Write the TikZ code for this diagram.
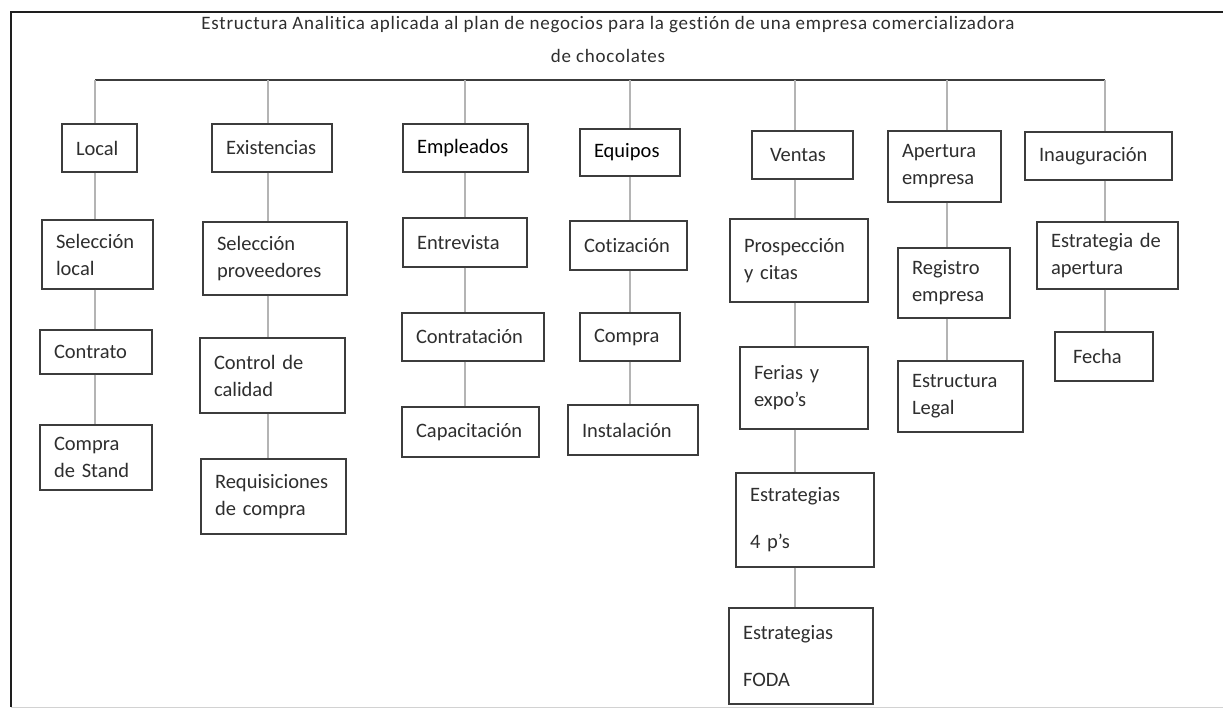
\documentclass[tikz,border=0pt]{standalone}
\usepackage{fontspec}
\setmainfont{Carlito}[Ligatures={NoCommon}]
\newfontfamily\titlefont{Carlito}[Ligatures={NoCommon},LetterSpace=4]
\definecolor{inkgray}{HTML}{2E2E2E}
\definecolor{edgegray}{HTML}{3C3C3C}
\definecolor{linkgray}{HTML}{B4B4B4}
\definecolor{framegray}{HTML}{1E1E1E}
\tikzset{
  box/.style={draw=edgegray, line width=1.4pt, rectangle, align=left,
    inner xsep=14pt, inner ysep=0pt, text=inkgray,
    font=\fontsize{20.5}{27}\selectfont},
  link/.style={draw=linkgray, line width=1.3pt},
  bus/.style={draw=edgegray, line width=1.4pt},
  titlestyle/.style={align=center, text=inkgray, font=\titlefont\fontsize{19}{33}\selectfont}
}
% box from (x1,y1) to (x2,y2), y measured downwards
\newcommand\wbsbox[6]{%
  \pgfmathsetmacro\bxw{#4-#2-28}%
  \node[box, text width=\bxw pt, minimum height={(#5-#3)*1pt}]
    (#1) at ({(#2+#4)/2},{(#3+#5)/2}) {#6};}
\begin{document}
\begin{tikzpicture}[x=1pt,y=-1pt]
\useasboundingbox (0,0) rectangle (1223,711);
% outer frame
\draw[framegray, line width=1.6pt] (1223,12) -- (11,12) -- (11,707);
\draw[linkgray!60, line width=1pt] (11,707) -- (1223,707);

\node[titlestyle] (title) at (608,39)
  {Estructura Analitica aplicada al plan de negocios para la gestión de una empresa comercializadora\\de chocolates};

% column axes on the bus
\coordinate (cLocal) at (95,80);
\coordinate (cExist) at (268,80);
\coordinate (cEmple) at (465,80);
\coordinate (cEquip) at (630,80);
\coordinate (cVenta) at (795,80);
\coordinate (cApert) at (947,80);
\coordinate (cInaug) at (1105,80);
\draw[bus] (cLocal) -- (cInaug);

% first level
\wbsbox{local}{62}{124}{137}{172}{Local}
\wbsbox{exist}{212}{124}{332}{172}{Existencias}
\wbsbox{emple}{403}{124}{528}{172}{\color{black}Empleados}
\wbsbox{equip}{580}{129}{680}{176}{\color{black}Equipos}
\wbsbox{venta}{752}{131}{853}{179}{\hspace{4pt}Ventas}
\wbsbox{apert}{888}{131}{1001}{202}{Apertura\\empresa}
\wbsbox{inaug}{1025}{132}{1172}{180}{Inauguración}

% second level
\wbsbox{sell}{42}{220}{153}{289}{Selección\\local}
\wbsbox{selp}{203}{222}{347}{295}{Selección\\proveedores}
\wbsbox{entre}{403}{218}{527}{267}{Entrevista\\[6pt]}
\wbsbox{coti}{570}{221}{687}{270}{Cotización}
\wbsbox{prosp}{730}{219}{868}{302}{Prospección\\y~citas\\[10pt]}
\wbsbox{regis}{898}{248}{1010}{318}{Registro\\empresa}
\wbsbox{estap}{1037}{222}{1178}{289}{Estrategia~de\\apertura}

% third level
\wbsbox{contr}{40}{330}{152}{374}{Contrato\\[2pt]}
\wbsbox{ctrl}{200}{338}{345}{413}{Control~de\\calidad}
\wbsbox{contrat}{402}{313}{544}{361}{Contratación}
\wbsbox{compra}{580}{313}{680}{361}{Compra\\[6pt]}
\wbsbox{ferias}{740}{347}{868}{429}{Ferias~y\\expo's\\[8pt]}
\wbsbox{estleg}{898}{361}{1023}{432}{Estructura\\Legal}
\wbsbox{fecha}{1055}{332}{1153}{381}{\hspace{4pt}Fecha\\[6pt]}

% fourth level
\wbsbox{stand}{40}{425}{152}{490}{Compra\\de~Stand}
\wbsbox{requi}{201}{459}{346}{534}{Requisiciones\\de~compra}
\wbsbox{capac}{402}{407}{539}{457}{Capacitación}
\wbsbox{insta}{568}{405}{698}{455}{Instalación\\[4pt]}
\wbsbox{ecuat}{736}{473}{874}{567}{Estrategias\\[20pt]4~p's\\[4pt]}

% fifth level
\wbsbox{foda}{729}{608}{873}{704}{Estrategias\\[20pt]FODA\\[4pt]}

% links from the bus to the first level
\draw[link] (cLocal) -- (cLocal |- local.north);
\draw[link] (cExist) -- (cExist |- exist.north);
\draw[link] (cEmple) -- (cEmple |- emple.north);
\draw[link] (cEquip) -- (cEquip |- equip.north);
\draw[link] (cVenta) -- (cVenta |- venta.north);
\draw[link] (cApert) -- (cApert |- apert.north);
\draw[link] (cInaug) -- (cInaug |- inaug.north);

% links inside each column
\draw[link] (cLocal |- local.south) -- (cLocal |- sell.north);
\draw[link] (cLocal |- sell.south) -- (cLocal |- contr.north);
\draw[link] (cLocal |- contr.south) -- (cLocal |- stand.north);

\draw[link] (cExist |- exist.south) -- (cExist |- selp.north);
\draw[link] (cExist |- selp.south) -- (cExist |- ctrl.north);
\draw[link] (cExist |- ctrl.south) -- (cExist |- requi.north);

\draw[link] (cEmple |- emple.south) -- (cEmple |- entre.north);
\draw[link] (cEmple |- entre.south) -- (cEmple |- contrat.north);
\draw[link] (cEmple |- contrat.south) -- (cEmple |- capac.north);

\draw[link] (cEquip |- equip.south) -- (cEquip |- coti.north);
\draw[link] (cEquip |- coti.south) -- (cEquip |- compra.north);
\draw[link] (cEquip |- compra.south) -- (cEquip |- insta.north);

\draw[link] (cVenta |- venta.south) -- (cVenta |- prosp.north);
\draw[link] (cVenta |- prosp.south) -- (cVenta |- ferias.north);
\draw[link] (cVenta |- ferias.south) -- (cVenta |- ecuat.north);
\draw[link] (cVenta |- ecuat.south) -- (cVenta |- foda.north);

\draw[link] (cApert |- apert.south) -- (cApert |- regis.north);
\draw[link] (cApert |- regis.south) -- (cApert |- estleg.north);

\draw[link] (cInaug |- inaug.south) -- (cInaug |- estap.north);
\draw[link] (cInaug |- estap.south) -- (cInaug |- fecha.north);
\end{tikzpicture}
\end{document}
